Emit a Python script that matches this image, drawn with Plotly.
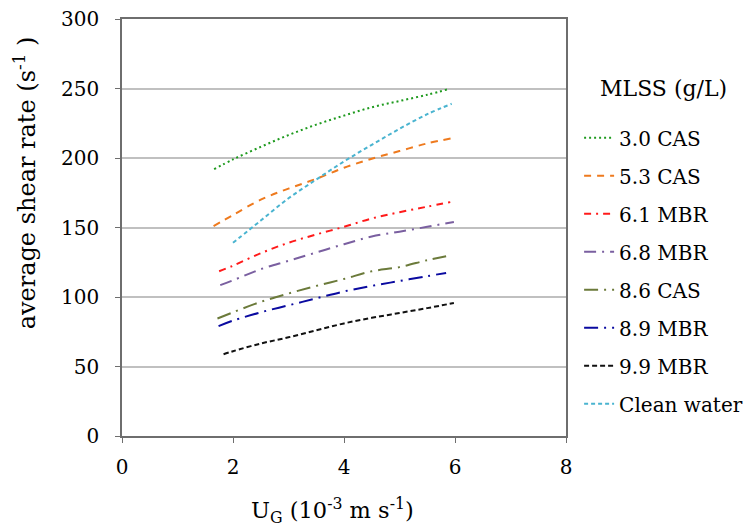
import plotly.graph_objects as go

# ---- data ----
series_names = ["3.0 CAS", "5.3 CAS", "6.1 MBR", "6.8 MBR", "8.6 CAS", "8.9 MBR", "9.9 MBR", "Clean water"]

x_30cas = [1.66, 2.0, 2.5, 3.0, 3.5, 4.0, 4.5, 5.0, 5.5, 5.88]
y_30cas = [192, 199, 208, 216.5, 224, 230.5, 236.5, 241, 245.5, 249.5]

x_53cas = [1.65, 2.0, 2.5, 3.0, 3.5, 4.0, 4.5, 5.0, 5.5, 5.92]
y_53cas = [151, 159, 170, 178, 185, 193, 199.5, 205, 210.5, 214]

x_61mbr = [1.75, 2.0, 2.5, 3.0, 3.5, 4.0, 4.5, 5.0, 5.5, 5.92]
y_61mbr = [118.5, 122.5, 131.5, 139, 145, 150.5, 156.5, 161, 165, 168.3]

x_68mbr = [1.77, 2.0, 2.5, 3.0, 3.5, 4.0, 4.5, 5.0, 5.5, 5.98]
y_68mbr = [108.5, 112, 120, 126, 132, 138, 143.5, 147, 150.5, 154]

x_86cas = [1.72, 2.0, 2.5, 3.0, 3.5, 4.0, 4.5, 5.0, 5.5, 5.84]
y_86cas = [84.5, 89, 96.5, 102.5, 108, 113, 118.5, 121.5, 126.5, 129.3]

x_89mbr = [1.74, 2.0, 2.5, 3.0, 3.5, 4.0, 4.5, 5.0, 5.5, 5.84]
y_89mbr = [79, 83, 89, 94, 99, 104, 108, 111.5, 115, 117.3]

x_99mbr = [1.83, 2.0, 2.5, 3.0, 3.5, 4.0, 4.5, 5.0, 5.5, 5.98]
y_99mbr = [58.8, 61, 66.5, 71, 76, 81, 85, 88.5, 92, 95.7]

x_clean = [2.0, 2.5, 3.0, 3.5, 4.0, 4.5, 5.0, 5.5, 5.94]
y_clean = [139, 155, 171, 184.5, 197.5, 209.5, 221, 231.5, 239]

x_ticks = [0, 2, 4, 6, 8]
y_ticks = [0, 50, 100, 150, 200, 250, 300]

legend_title = "MLSS (g/L)"
x_title = "U<sub>G</sub> (10<sup>-3</sup> m s<sup>-1</sup>)"
y_title = "average shear rate (s<sup>-1</sup> )"

# ---- styles ----
colors = ["#1e9a1e", "#ee7a1e", "#ff1a1a", "#7a5fa0", "#6b7a3a", "#0a0aa0", "#111111", "#4ab4d0"]
dashes = ["2px,3px", "7px,6px", "7px,5px,2px,5px", "12px,6px,2px,6px",
          "14px,6px,2px,6px", "14px,6px,2px,6px", "5px,3px", "4px,3px"]

xs = [x_30cas, x_53cas, x_61mbr, x_68mbr, x_86cas, x_89mbr, x_99mbr, x_clean]
ys = [y_30cas, y_53cas, y_61mbr, y_68mbr, y_86cas, y_89mbr, y_99mbr, y_clean]

FONT = "DejaVu Serif"
AXC = "#6e6e6e"

# plot area in page pixels
PL, PR, PT, PB = 122, 566, 18.6, 435.7

fig = go.Figure()
for i, name in enumerate(series_names):
    fig.add_trace(go.Scatter(
        x=xs[i], y=ys[i], mode="lines", name=name, legendgroup=name,
        line=dict(color=colors[i], width=2, dash=dashes[i], shape="spline"),
    ))

fig.update_layout(
    width=746, height=527,
    margin=dict(l=PL, r=746 - PR, t=PT, b=527 - PB, autoexpand=False),
    paper_bgcolor="white", plot_bgcolor="white",
    font=dict(family=FONT, size=20, color="black"),
    showlegend=True,
    legend=dict(
        x=1.0295, xanchor="left", y=0.762, yanchor="top",
        font=dict(family=FONT, size=20),
        itemwidth=30, tracegroupgap=9,
        bgcolor="rgba(0,0,0,0)",
    ),
    xaxis=dict(
        range=[0, 8], tickvals=x_ticks, ticktext=[str(v) for v in x_ticks],
        showgrid=False, zeroline=False, automargin=False, ticklabeloverflow="allow",
        showline=True, mirror=True, linecolor=AXC, linewidth=1.5,
        ticks="outside", ticklen=5, tickcolor=AXC, ticklabelstandoff=7,
    ),
    yaxis=dict(
        range=[0, 300], tickvals=y_ticks, ticktext=[str(v) for v in y_ticks],
        showgrid=True, gridcolor="#c0c0c0", gridwidth=2, zeroline=False, automargin=False,
        ticklabeloverflow="allow",
        showline=True, mirror=True, linecolor=AXC, linewidth=1.5,
        ticks="outside", ticklen=5, tickcolor=AXC, ticklabelstandoff=12,
    ),
    annotations=[
        dict(text=legend_title, xref="paper", yref="paper", x=(663 - PL) / (PR - PL), y=1 - (88 - PT) / (PB - PT),
             xanchor="center", yanchor="middle", showarrow=False, font=dict(family=FONT, size=22)),
        dict(text=y_title, xref="paper", yref="paper", x=(25 - PL) / (PR - PL), y=1 - (183 - PT) / (PB - PT),
             xanchor="center", yanchor="middle", textangle=-90, showarrow=False,
             font=dict(family=FONT, size=24)),
        dict(text=x_title, xref="paper", yref="paper", x=(332.5 - PL) / (PR - PL), y=(PB - 510) / (PB - PT),
             xanchor="center", yanchor="middle", showarrow=False, font=dict(family=FONT, size=22.5)),
    ],
)

fig.write_html(
    "out.html",
    config={"displayModeBar": False},
    post_script="document.body.style.margin='0';document.body.style.overflow='hidden';",
)
